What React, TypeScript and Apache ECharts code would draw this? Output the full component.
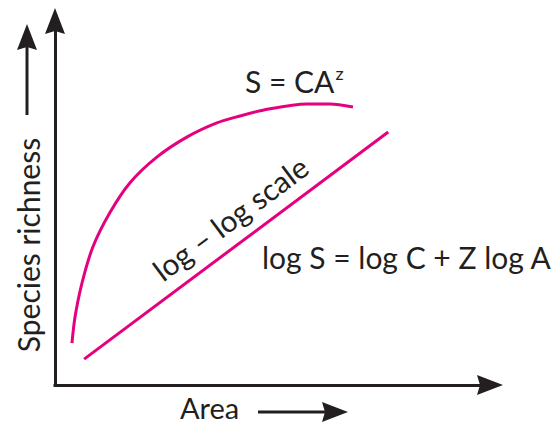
import React, { useEffect, useRef } from "react";
import * as echarts from "echarts";

// Species–area curve S = C·A^z (arithmetic axes), values in % of axis range
const curveArea = [3.9, 4.6, 6.2, 8.7, 12.6, 17.2, 23.4, 30.3, 37.2, 42.5, 47.8, 57.9, 63.2, 68.5];
const curveRichness = [11.5, 18.7, 28.0, 37.9, 47.3, 55.5, 62.6, 68.1, 72.0, 73.9, 75.5, 77.2, 77.2, 76.4];

// Same relation on log–log scale: a straight line
const logArea = [6.7, 76.6];
const logRichness = [7.1, 69.5];

const xTitle = "Area";
const yTitle = "Species richness";
const curveLabel = "S = CA";
const curveExp = "z";
const lineLabel = "log – log scale";
const equation = "log S = log C + Z log A";

const MAGENTA = "#e5007d";
const INK = "#231f20";
const FONT = "Lato";

export default function App() {
  const ref = useRef<HTMLDivElement>(null);
  useEffect(() => {
    if (!ref.current) return;
    const chart = echarts.init(ref.current, undefined, { renderer: "svg" });
    const arrowSym = "path://M0,0 L10,26 L0,23 L-10,26 Z";
    chart.setOption({
      animation: false,
      backgroundColor: "#ffffff",
      grid: { left: 55, right: 70, top: 21, bottom: 38 },
      xAxis: {
        type: "value",
        min: 0,
        max: 100,
        axisLine: {
          show: true,
          symbol: ["none", arrowSym],
          symbolSize: [20, 26],
          lineStyle: { color: INK, width: 3, cap: "square" },
        },
        axisTick: { show: false },
        axisLabel: { show: false },
        splitLine: { show: false },
      },
      yAxis: {
        type: "value",
        min: 0,
        max: 100,
        axisLine: {
          show: true,
          symbol: ["none", arrowSym],
          symbolSize: [20, 26],
          lineStyle: { color: INK, width: 3, cap: "square" },
        },
        axisTick: { show: false },
        axisLabel: { show: false },
        splitLine: { show: false },
      },
      series: [
        {
          type: "line",
          name: "S = CA^z",
          data: curveArea.map((a, i) => [a, curveRichness[i]]),
          smooth: 0.3,
          showSymbol: false,
          lineStyle: { color: MAGENTA, width: 3 },
        },
        {
          type: "line",
          name: "log–log",
          data: logArea.map((a, i) => [a, logRichness[i]]),
          showSymbol: false,
          lineStyle: { color: MAGENTA, width: 3 },
        },
      ],
      graphic: [
        {
          type: "text",
          x: 180,
          y: 407,
          style: { text: xTitle, font: `29px ${FONT}`, fill: INK, textAlign: "left", textVerticalAlign: "middle" },
        },
        { type: "line", shape: { x1: 258, y1: 412, x2: 326, y2: 412 }, style: { stroke: INK, lineWidth: 3 } },
        { type: "polygon", shape: { points: [[348, 412], [322, 402], [325, 412], [322, 422]] }, style: { fill: INK } },
        {
          type: "text",
          x: 28,
          y: 245,
          rotation: Math.PI / 2,
          style: { text: yTitle, font: `30px ${FONT}`, fill: INK, textAlign: "center", textVerticalAlign: "middle" },
        },
        { type: "line", shape: { x1: 27, y1: 115, x2: 27, y2: 46 }, style: { stroke: INK, lineWidth: 3 } },
        { type: "polygon", shape: { points: [[27, 24], [37, 50], [27, 47], [17, 50]] }, style: { fill: INK } },
        {
          type: "text",
          x: 245,
          y: 81,
          style: {
            text: `${curveLabel}{sup|${curveExp}}`,
            font: `30px ${FONT}`,
            fill: INK,
            textAlign: "left",
            textVerticalAlign: "middle",
            rich: { sup: { fontSize: 18, fontFamily: FONT, fill: INK, verticalAlign: "top", padding: [0, 0, 16, 1] } },
          },
        },
        {
          type: "text",
          x: 230,
          y: 218,
          rotation: (36.75 * Math.PI) / 180,
          style: { text: lineLabel, font: `30px ${FONT}`, fill: INK, textAlign: "center", textVerticalAlign: "middle" },
        },
        {
          type: "text",
          x: 262,
          y: 257,
          style: { text: equation, font: `30px ${FONT}`, fill: INK, textAlign: "left", textVerticalAlign: "middle" },
        },
      ],
    });
    return () => chart.dispose();
  }, []);
  return <div ref={ref} style={{ width: 560, height: 423, position: "absolute", left: 0, top: 0 }} />;
}
